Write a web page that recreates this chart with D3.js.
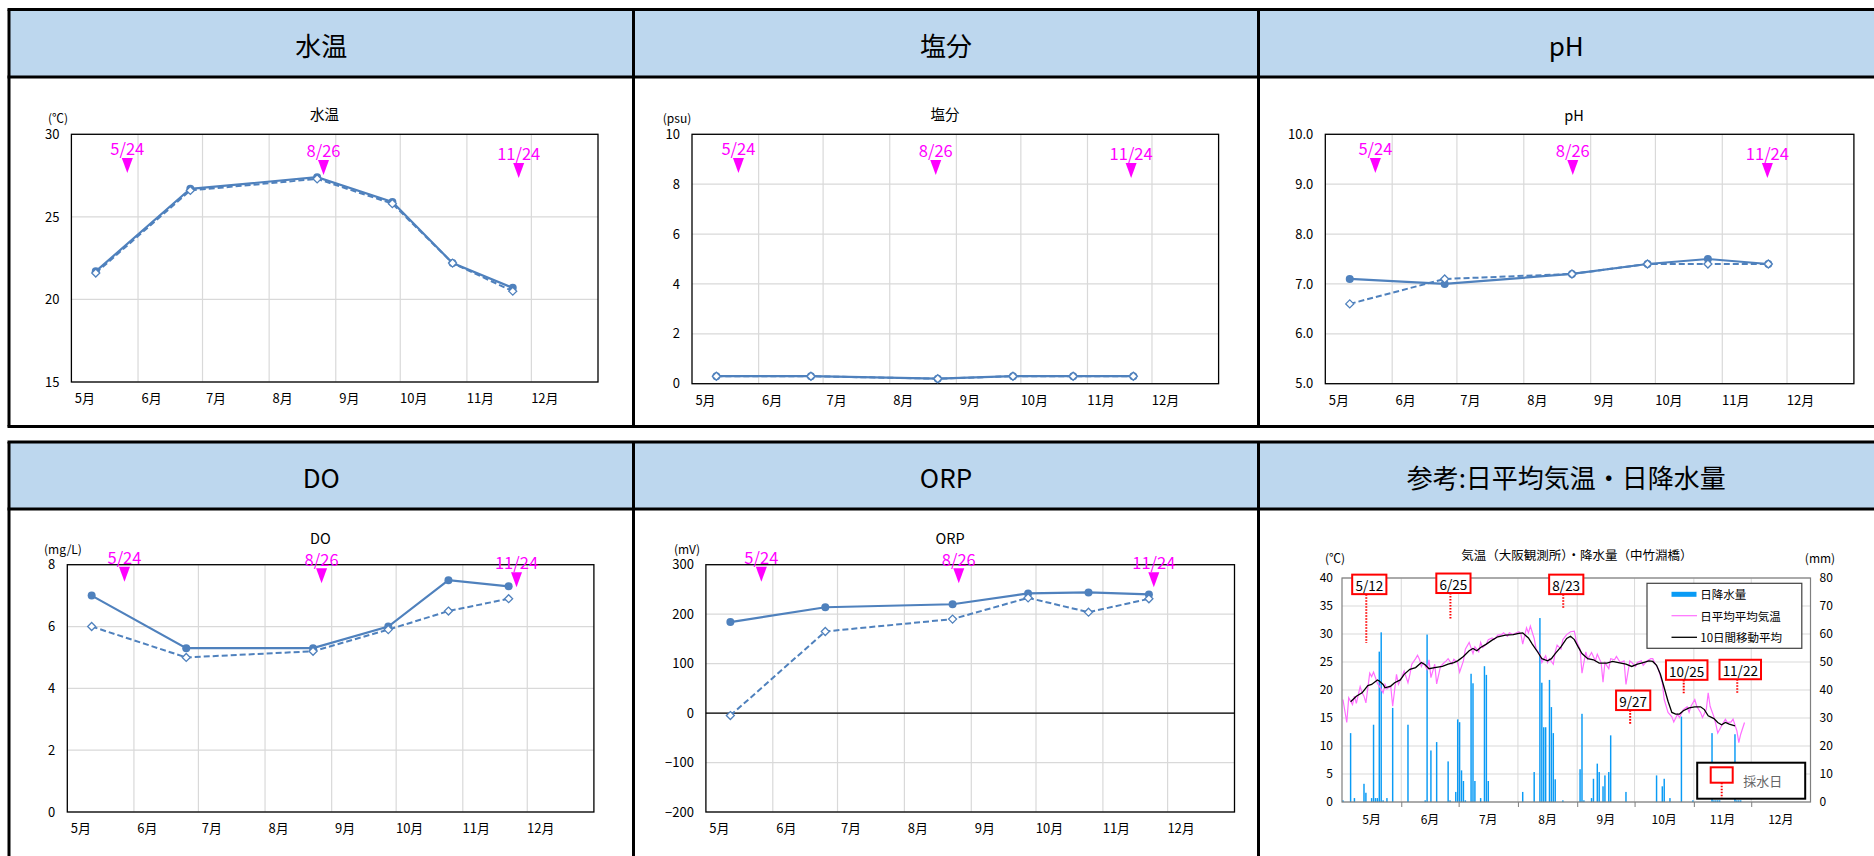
<!DOCTYPE html>
<html>
<head>
<meta charset="utf-8">
<script src="https://cdn.jsdelivr.net/npm/d3@7"></script>
<style>
  body { margin: 0; background: #fff; overflow: hidden; }
  text { font-family: "Noto Sans CJK JP", "Noto Sans", sans-serif; }
</style>
</head>
<body>
<svg id="page" width="1874" height="856"></svg>
<script>
// ---- data ----
const sampleDates = ["5/12", "6/25", "8/23", "9/27", "10/25", "11/22"];
const monthLabels = ["5月", "6月", "7月", "8月", "9月", "10月", "11月", "12月"];
const markerLabels = ["5/24", "8/26", "11/24"];

const wtSolid = [21.7, 26.7, 27.4, 25.9, 22.2, 20.7];
const wtDashed = [21.6, 26.6, 27.3, 25.8, 22.2, 20.5];
const salSolid = [0.3, 0.3, 0.2, 0.3, 0.3, 0.3];
const salDashed = [0.3, 0.3, 0.2, 0.3, 0.3, 0.3];
const phSolid = [7.1, 7.0, 7.2, 7.4, 7.5, 7.4];
const phDashed = [6.6, 7.1, 7.2, 7.4, 7.4, 7.4];
const doSolid = [7.0, 5.3, 5.3, 6.0, 7.5, 7.3];
const doDashed = [6.0, 5.0, 5.2, 5.9, 6.5, 6.9];
const orpSolid = [184, 214, 220, 242, 244, 240];
const orpDashed = [-5, 165, 190, 233, 204, 231];

const wtTicks = [15, 20, 25, 30];
const salTicks = [0, 2, 4, 6, 8, 10];
const phTicks = [5, 6, 7, 8, 9, 10];
const doTicks = [0, 2, 4, 6, 8];
const orpTicks = [-200, -100, 0, 100, 200, 300];

// where the magenta arrows sit, in days after 5/1 (each chart placed them by hand)
const wtMarkerDays = [26.0, 117.3, 208.1];
const salMarkerDays = [21.6, 113.4, 204.3];
const phMarkerDays = [23.2, 114.7, 204.9];
const doMarkerDays = [26.6, 118.3, 209.0];
const orpMarkerDays = [25.7, 117.2, 207.6];

// daily rainfall (mm), days after 5/1
const rainDay = [0, 4, 6, 11, 12, 15, 16, 17, 18, 19, 20, 21, 23, 26, 34, 43, 44, 46, 49, 55, 56, 59, 60, 61, 62, 63, 64,
  67, 68, 69, 72, 74, 75, 76, 94, 100, 103, 104, 105, 106, 108, 109, 110, 111, 115, 124, 125, 126, 130, 131, 133, 134,
  136, 137, 139, 140, 148, 164, 167, 168, 171, 177, 183, 193, 194, 195, 196, 197, 205, 206, 207, 208];
const rainMm = [0.6, 24.6, 1.4, 6.5, 3.3, 1.4, 27.6, 1.4, 1.4, 53.7, 60.6, 0.6, 1.4, 33.6, 27.6, 0.6, 59.8, 18.4, 21.4,
  14.5, 0.6, 3.6, 29.5, 28.5, 11.3, 7.5, 0.6, 45.8, 42.4, 7.5, 1.4, 48.5, 45.4, 7.5, 3.6, 10.7, 65.7, 42.6, 26.7, 26.7,
  43.6, 33.9, 24.6, 8.1, 0.6, 11.7, 31.5, 0.6, 1.4, 8.3, 13.7, 10.7, 5.6, 9.5, 10.7, 23.8, 3.6, 9.5, 5.6, 8.3, 1.4,
  30.5, 0.6, 24.6, 0.6, 0.6, 0.6, 0.6, 24.2, 0.6, 0.6, 0.6];

// daily mean air temperature (°C), days after 5/1
const tempDay = [0, 2, 3, 5, 6, 7, 9, 10, 11, 12, 14, 15, 16, 18, 19, 21, 22, 23, 25, 26, 28, 29, 31, 32, 34, 35, 36, 38,
  39, 40, 41, 42, 44, 45, 46, 48, 49, 51, 53, 54, 55, 57, 58, 60, 61, 63, 64, 66, 68, 69, 71, 72, 73, 75, 76, 78, 79,
  81, 83, 84, 86, 87, 89, 90, 92, 93, 94, 96, 97, 98, 100, 101, 103, 104, 106, 107, 108, 110, 111, 112, 114, 115, 117,
  119, 121, 122, 124, 125, 127, 128, 130, 132, 133, 135, 136, 137, 139, 140, 142, 143, 145, 147, 148, 150, 151, 153,
  154, 156, 157, 159, 161, 162, 163, 165, 167, 168, 170, 172, 173, 175, 176, 178, 180, 181, 182, 184, 185, 187, 188,
  190, 191, 192, 194, 195, 196, 198, 200, 201, 203, 204, 206, 207, 208, 210];
const tempVal = [18.3, 14.2, 18.6, 17.4, 18.9, 17.6, 20.6, 19.5, 18.9, 17.7, 23.0, 22.4, 23.2, 21.2, 20.7, 19.5, 21.0,
  20.2, 20.7, 17.1, 22.8, 21.0, 22.5, 23.4, 21.3, 22.8, 24.6, 25.6, 26.2, 25.5, 24.2, 24.9, 23.7, 25.4, 22.2, 24.6,
  21.1, 24.2, 24.9, 25.2, 25.6, 24.6, 25.5, 24.9, 23.2, 25.2, 27.3, 28.5, 26.5, 27.7, 26.8, 28.5, 27.6, 28.2, 29.0,
  29.3, 29.0, 29.8, 29.9, 30.2, 29.6, 30.2, 29.9, 30.1, 30.4, 30.1, 28.2, 31.1, 30.2, 31.4, 29.2, 27.3, 26.4, 24.9,
  26.1, 24.9, 25.6, 24.6, 26.8, 28.0, 27.3, 29.0, 29.9, 30.4, 30.5, 28.8, 27.3, 23.0, 26.8, 25.5, 26.7, 25.2, 26.4,
  24.9, 21.4, 24.9, 23.8, 25.6, 25.4, 26.0, 24.9, 25.2, 21.0, 25.2, 24.9, 24.2, 24.9, 25.2, 24.4, 25.2, 25.6, 25.6,
  24.9, 23.7, 21.3, 18.3, 16.0, 15.2, 14.3, 15.7, 15.1, 16.5, 17.0, 16.0, 17.1, 18.3, 17.1, 16.0, 15.1, 16.5, 19.5,
  17.1, 15.2, 13.9, 12.3, 13.6, 14.8, 14.2, 14.3, 14.8, 12.7, 10.6, 12.1, 14.2];

// 10-day moving average as drawn (°C)
const avgDay = [4, 7, 10, 13, 15, 18, 19, 21, 22, 25, 27, 30, 32, 35, 38, 41, 43, 45, 48, 52, 55, 58, 60, 63, 66, 68,
  70, 72, 75, 78, 81, 85, 89, 92, 94, 97, 99, 102, 104, 107, 109, 111, 114, 117, 119, 121, 123, 125, 128, 131, 134,
  138, 141, 144, 148, 151, 154, 157, 160, 162, 164, 166, 168, 170, 172, 174, 176, 178, 181, 184, 187, 189, 191, 194,
  196, 198, 200, 202, 205];
const avgVal = [17.9, 18.9, 19.5, 20.8, 21.0, 21.8, 21.6, 21.0, 20.4, 20.7, 21.3, 21.8, 22.8, 23.7, 24.0, 24.9, 24.5,
  23.8, 24.0, 24.2, 24.6, 24.9, 25.2, 26.0, 27.0, 27.4, 27.0, 27.6, 28.2, 28.9, 29.5, 29.8, 29.9, 30.1, 30.2, 29.3,
  28.2, 26.7, 25.6, 25.2, 25.6, 26.5, 27.7, 29.2, 29.6, 29.0, 27.7, 26.5, 25.6, 25.4, 24.8, 24.8, 25.1, 24.9, 24.6,
  24.2, 24.6, 24.9, 25.2, 25.1, 24.4, 22.8, 20.4, 18.0, 16.0, 15.7, 15.7, 16.3, 16.8, 17.0, 17.0, 16.5, 15.4, 14.9,
  14.2, 13.8, 14.2, 13.9, 13.6];

// red sample-day boxes in the reference chart: box top / end of dotted stem (left-axis °C)
const sampleBoxTop = [40.6, 40.8, 40.6, 19.9, 25.3, 25.4];
const sampleStemEnd = [28.4, 32.6, 34.7, 13.8, 19.4, 19.4];

const rainLeftTicks = [0, 5, 10, 15, 20, 25, 30, 35, 40];
const rainRightTicks = [0, 10, 20, 30, 40, 50, 60, 70, 80];

// ---- helpers ----
const svg = d3.select("#page");
const base = new Date(2023, 4, 1);
const endDate = new Date(2024, 0, 1);
const dayDate = d => new Date(base.getTime() + d * 864e5);
const mdDate = s => { const p = s.split("/").map(Number); return new Date(2023, p[0] - 1, p[1]); };
const months = d3.timeMonth.range(base, endDate);
const blue = "#4F81BD";
const magenta = "#FF00FF";

// ---- panel frame ----
const colX = [9, 633.5, 1258.5, 1900];
const rows = [{ top: 9.5, head: 77, bottom: 426.5 }, { top: 442, head: 509, bottom: 900 }];
const headers = [["水温", "塩分", "pH"], ["DO", "ORP", "参考:日平均気温・日降水量"]];

rows.forEach((r, ri) => {
  headers[ri].forEach((h, ci) => {
    svg.append("rect").attr("x", colX[ci]).attr("y", r.top)
      .attr("width", colX[ci + 1] - colX[ci]).attr("height", r.head - r.top).attr("fill", "#BDD7EE");
    svg.append("text").attr("x", (colX[ci] + Math.min(colX[ci + 1], 1874)) / 2)
      .attr("y", (r.top + r.head) / 2 + 1).attr("text-anchor", "middle").attr("dominant-baseline", "central")
      .attr("font-size", 26).text(h);
  });
  [r.top, r.head, r.bottom].forEach(yy => {
    svg.append("line").attr("x1", colX[0] - 1.5).attr("x2", 1874).attr("y1", yy).attr("y2", yy)
      .attr("stroke", "#000").attr("stroke-width", 3);
  });
  colX.slice(0, 3).forEach(xx => {
    svg.append("line").attr("x1", xx).attr("x2", xx).attr("y1", r.top).attr("y2", r.bottom)
      .attr("stroke", "#000").attr("stroke-width", 3);
  });
});

// ---- water quality charts ----
function drawWater(c) {
  const g = svg.append("g");
  const x = d3.scaleTime().domain([base, endDate]).range([c.left, c.right]);
  const y = d3.scaleLinear().domain(d3.extent(c.ticks)).range([c.bottom, c.top]);

  g.selectAll(".hg").data(c.ticks).join("line")
    .attr("x1", c.left).attr("x2", c.right).attr("y1", d => y(d)).attr("y2", d => y(d))
    .attr("stroke", "#D9D9D9").attr("stroke-width", 1.2);
  g.selectAll(".vg").data(months.slice(1)).join("line")
    .attr("x1", d => x(d)).attr("x2", d => x(d)).attr("y1", c.top).attr("y2", c.bottom)
    .attr("stroke", "#D9D9D9").attr("stroke-width", 1.2);
  if (c.zeroLine) {
    g.append("line").attr("x1", c.left).attr("x2", c.right).attr("y1", y(0)).attr("y2", y(0))
      .attr("stroke", "#000").attr("stroke-width", 1.2);
  }
  g.append("rect").attr("x", c.left).attr("y", c.top).attr("width", c.right - c.left)
    .attr("height", c.bottom - c.top).attr("fill", "none").attr("stroke", "#000").attr("stroke-width", 1.3);

  const ya = g.append("g").attr("transform", `translate(${c.left},0)`)
    .call(d3.axisLeft(y).tickValues(c.ticks).tickSize(0).tickPadding(12).tickFormat(c.fmt || d3.format("d")));
  ya.select(".domain").remove();
  ya.selectAll("text").attr("font-size", 13).attr("font-family", "'Noto Sans CJK JP'").attr("fill", "#000");

  const xa = g.append("g").attr("transform", `translate(0,${c.bottom})`)
    .call(d3.axisBottom(x).tickValues(months).tickSize(0).tickPadding(12).tickFormat((d, i) => monthLabels[i]));
  xa.select(".domain").remove();
  xa.selectAll("text").attr("font-size", 13).attr("font-family", "'Noto Sans CJK JP'").attr("fill", "#000")
    .attr("dx", 13);

  g.append("text").attr("x", c.titleX).attr("y", c.titleY).attr("text-anchor", "middle")
    .attr("dominant-baseline", "central").attr("font-size", 14.5).text(c.title);
  if (c.unit) {
    g.append("text").attr("x", c.unitX).attr("y", c.unitY).attr("text-anchor", "middle")
      .attr("dominant-baseline", "central").attr("font-size", 12).text(c.unit);
  }

  const pts = arr => arr.map((v, i) => [x(new Date(mdDate(sampleDates[i]).getTime() + 8 * 36e5)), y(v)]);
  const line = d3.line();
  const pS = pts(c.solid), pD = pts(c.dashed);
  g.append("path").attr("d", line(pS)).attr("fill", "none").attr("stroke", blue).attr("stroke-width", 2.2);
  g.selectAll(".ms").data(pS).join("circle").attr("cx", d => d[0]).attr("cy", d => d[1]).attr("r", 4)
    .attr("fill", blue);
  g.append("path").attr("d", line(pD)).attr("fill", "none").attr("stroke", blue).attr("stroke-width", 2)
    .attr("stroke-dasharray", "6,3");
  g.selectAll(".md").data(pD).join("path")
    .attr("d", d => `M${d[0]},${d[1] - 4}L${d[0] + 4},${d[1]}L${d[0]},${d[1] + 4}L${d[0] - 4},${d[1]}Z`)
    .attr("fill", "#fff").attr("stroke", blue).attr("stroke-width", 1.3);

  // magenta sampling-day arrows
  c.markers.forEach((md, i) => {
    const mx = x(dayDate(md));
    const ty = c.top + c.triDy[i];
    g.append("path").attr("d", `M${mx - 5.5},${ty}L${mx + 5.5},${ty}L${mx},${ty + 15}Z`).attr("fill", magenta);
    g.append("text").attr("x", mx).attr("y", c.top + c.textDy[i]).attr("text-anchor", "middle")
      .attr("dominant-baseline", "central").attr("font-size", 16.5).attr("fill", magenta).text(markerLabels[i]);
  });
}

const row1Mk = { textDy: [13.4, 15.7, 18.4], triDy: [23.7, 25.7, 28.7] };
const row2Mk = { textDy: [-8, -5.5, -3], triDy: [2, 3.6, 7.6] };

drawWater(Object.assign({ left: 71.4, right: 598, top: 134.3, bottom: 382, ticks: wtTicks, solid: wtSolid,
  dashed: wtDashed, title: "水温", titleX: 324.5, titleY: 113, unit: "(℃)", unitX: 58, unitY: 117,
  markers: wtMarkerDays }, row1Mk));
drawWater(Object.assign({ left: 692, right: 1218.6, top: 134.3, bottom: 383.7, ticks: salTicks, solid: salSolid,
  dashed: salDashed, title: "塩分", titleX: 945, titleY: 113, unit: "(psu)", unitX: 677, unitY: 117,
  markers: salMarkerDays }, row1Mk));
drawWater(Object.assign({ left: 1325.3, right: 1853.9, top: 134.3, bottom: 383.7, ticks: phTicks, solid: phSolid,
  dashed: phDashed, title: "pH", titleX: 1574, titleY: 114, fmt: d3.format(".1f"),
  markers: phMarkerDays }, row1Mk));
drawWater(Object.assign({ left: 67.3, right: 593.9, top: 564.7, bottom: 812, ticks: doTicks, solid: doSolid,
  dashed: doDashed, title: "DO", titleX: 320.3, titleY: 537, unit: "(mg/L)", unitX: 63, unitY: 548,
  markers: doMarkerDays }, row2Mk));
drawWater(Object.assign({ left: 705.9, right: 1234.5, top: 564.7, bottom: 812, ticks: orpTicks, solid: orpSolid,
  dashed: orpDashed, title: "ORP", titleX: 950, titleY: 537, unit: "(mV)", unitX: 687, unitY: 548,
  markers: orpMarkerDays, zeroLine: true }, row2Mk));

// ---- reference chart: air temperature & rainfall ----
(function drawWeather() {
  const L = 1342, R = 1810.5, T = 578, B = 802;
  const g = svg.append("g");
  const x = d3.scaleTime().domain([base, endDate]).range([L, R]);
  const yT = d3.scaleLinear().domain([0, 40]).range([B, T]);
  const yR = d3.scaleLinear().domain([0, 80]).range([B, T]);
  const dayW = x(dayDate(1)) - x(base);

  g.selectAll(".hg").data(rainLeftTicks).join("line")
    .attr("x1", L).attr("x2", R).attr("y1", d => yT(d)).attr("y2", d => yT(d)).attr("stroke", "#D9D9D9");
  g.selectAll(".vg").data(months.slice(1)).join("line")
    .attr("x1", d => x(d)).attr("x2", d => x(d)).attr("y1", T).attr("y2", B).attr("stroke", "#D9D9D9");

  g.selectAll(".bar").data(rainDay).join("rect")
    .attr("x", d => x(dayDate(d)) + dayW * 0.12).attr("width", dayW * 0.76)
    .attr("y", (d, i) => yR(rainMm[i])).attr("height", (d, i) => B - yR(rainMm[i]))
    .attr("fill", "#0A9BF5");

  const line = d3.line().x(d => x(dayDate(d[0] + 0.5))).y(d => yT(d[1]));
  g.append("path").attr("d", line(tempDay.map((d, i) => [d, tempVal[i]])))
    .attr("fill", "none").attr("stroke", "#FF6EFF").attr("stroke-width", 1.2);
  g.append("path").attr("d", line(avgDay.map((d, i) => [d, avgVal[i]])))
    .attr("fill", "none").attr("stroke", "#000").attr("stroke-width", 1.3);

  g.append("rect").attr("x", L).attr("y", T).attr("width", R - L).attr("height", B - T)
    .attr("fill", "none").attr("stroke", "#7F7F7F").attr("stroke-width", 1.2);

  const la = g.append("g").attr("transform", `translate(${L},0)`)
    .call(d3.axisLeft(yT).tickValues(rainLeftTicks).tickSize(0).tickPadding(9));
  const ra = g.append("g").attr("transform", `translate(${R},0)`)
    .call(d3.axisRight(yR).tickValues(rainRightTicks).tickSize(0).tickPadding(9));
  [la, ra].forEach(a => {
    a.select(".domain").remove();
    a.selectAll("text").attr("font-size", 12).attr("font-family", "'Noto Sans CJK JP'").attr("fill", "#000");
  });
  const ta = g.append("g").attr("transform", `translate(0,${B})`)
    .call(d3.axisBottom(x).tickValues(months.slice(1)).tickSize(5).tickFormat(""));
  ta.select(".domain").remove();
  ta.selectAll("line").attr("stroke", "#7F7F7F");
  g.selectAll(".ml").data(months).join("text")
    .attr("x", d => (x(d) + x(d3.timeMonth.offset(d, 1))) / 2).attr("y", B + 16)
    .attr("text-anchor", "middle").attr("dominant-baseline", "central").attr("font-size", 12)
    .text((d, i) => monthLabels[i]);

  g.append("text").attr("x", 1576.8).attr("y", 554).attr("text-anchor", "middle")
    .attr("dominant-baseline", "central").attr("font-size", 12.5).text("気温（大阪観測所）・降水量（中竹淵橋）");
  g.append("text").attr("x", 1335).attr("y", 557.7).attr("text-anchor", "middle")
    .attr("dominant-baseline", "central").attr("font-size", 12).text("(℃)");
  g.append("text").attr("x", 1820).attr("y", 557.7).attr("text-anchor", "middle")
    .attr("dominant-baseline", "central").attr("font-size", 12).text("(mm)");

  // sample-day boxes
  sampleDates.forEach((s, i) => {
    const sx = x(new Date(mdDate(s).getTime() + 1.7 * 864e5));
    const top = yT(sampleBoxTop[i]);
    const w = s.length * 7.3 + 5, h = 19.5;
    g.append("line").attr("x1", sx).attr("x2", sx).attr("y1", top + h).attr("y2", yT(sampleStemEnd[i]))
      .attr("stroke", "#FF0000").attr("stroke-width", 2).attr("stroke-dasharray", "1.6,1.4");
    g.append("rect").attr("x", sx + 3 - w / 2).attr("y", top).attr("width", w).attr("height", h)
      .attr("fill", "#fff").attr("stroke", "#FF0000").attr("stroke-width", 2);
    g.append("text").attr("x", sx + 3).attr("y", top + h / 2 + 0.5).attr("text-anchor", "middle")
      .attr("dominant-baseline", "central").attr("font-size", 13.5).text(s);
  });

  // legend
  const lg = g.append("g");
  lg.append("rect").attr("x", 1647).attr("y", 583.3).attr("width", 154.8).attr("height", 65)
    .attr("fill", "#fff").attr("stroke", "#404040").attr("stroke-width", 1.2);
  lg.append("rect").attr("x", 1671.5).attr("y", 591.8).attr("width", 25).attr("height", 5).attr("fill", "#0A9BF5");
  lg.append("line").attr("x1", 1671.5).attr("x2", 1697).attr("y1", 615.7).attr("y2", 615.7)
    .attr("stroke", "#FF6EFF").attr("stroke-width", 1.2);
  lg.append("line").attr("x1", 1671.5).attr("x2", 1697).attr("y1", 637.3).attr("y2", 637.3)
    .attr("stroke", "#000").attr("stroke-width", 1.3);
  [["日降水量", 594.3], ["日平均平均気温", 615.7], ["10日間移動平均", 637.3]].forEach(t => {
    lg.append("text").attr("x", 1700.3).attr("y", t[1]).attr("dominant-baseline", "central")
      .attr("font-size", 11.5).text(t[0]);
  });

  const sg = g.append("g");
  sg.append("rect").attr("x", 1697.2).attr("y", 762.7).attr("width", 108).attr("height", 36)
    .attr("fill", "#fff").attr("stroke", "#000").attr("stroke-width", 2);
  sg.append("rect").attr("x", 1710.7).attr("y", 767.3).attr("width", 22).attr("height", 15.4)
    .attr("fill", "#fff").attr("stroke", "#FF0000").attr("stroke-width", 2);
  sg.append("line").attr("x1", 1721.7).attr("x2", 1721.7).attr("y1", 782.7).attr("y2", 798)
    .attr("stroke", "#FF0000").attr("stroke-width", 2).attr("stroke-dasharray", "1.6,1.4");
  sg.append("text").attr("x", 1743.3).attr("y", 780).attr("dominant-baseline", "central")
    .attr("font-size", 13).attr("fill", "#666").text("採水日");
})();
</script>
</body>
</html>
